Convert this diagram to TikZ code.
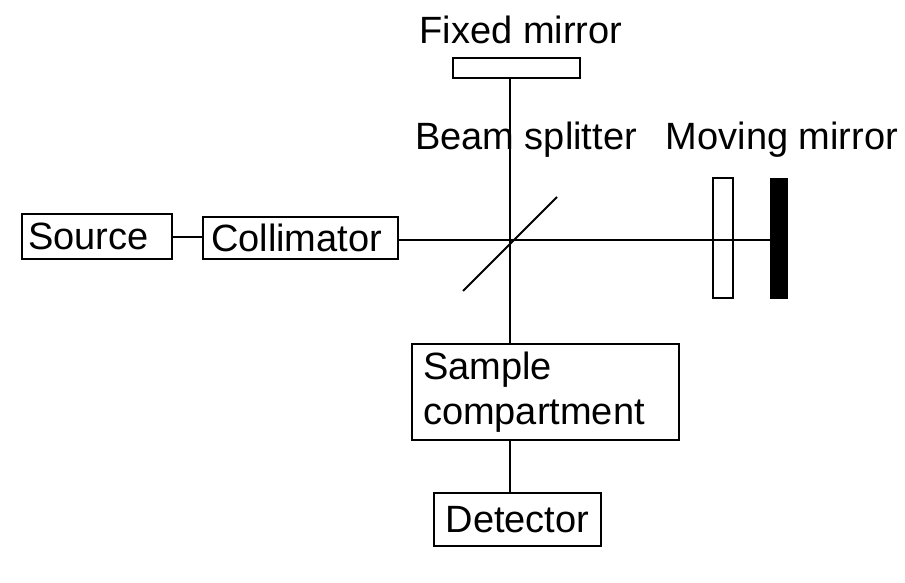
\documentclass[tikz,border=0pt]{standalone}
\usepackage{fontspec}
\setmainfont{Liberation Sans}
\usetikzlibrary{calc}
\begin{document}
\begin{tikzpicture}[x=1pt,y=-1pt,
  every node/.style={font=\fontsize{38}{45}\selectfont},
  box/.style={draw, line width=2pt, rectangle, inner ysep=0pt},
  ln/.style={line width=2pt},
  lbl/.style={inner sep=0pt}]
\useasboundingbox (0,0) rectangle (905,583);
\coordinate (bs) at (510,240);
% boxes
\node[box, minimum width=150, minimum height=45, text width=138, align=left, inner xsep=6] (source) at (97,236.5) {Source};
\node[box, minimum width=195, minimum height=42, text width=179, align=left, inner xsep=8] (colli) at (300.5,238) {Collimator};
\node[box, minimum width=267, minimum height=96, text width=245, align=left, inner xsep=11] (sample) at (545.5,392) {Sample\\compartment};
\node[box, minimum width=167, minimum height=53, inner xsep=0] (det) at (517.5,519.5) {Detector};
% mirrors
\node[box, minimum width=127, minimum height=20, inner sep=0] (fixed) at (516.5,68) {};
\node[box, minimum width=20, minimum height=120, inner sep=0] (comp) at (723,238) {};
\node[draw, fill=black, line width=1pt, minimum width=17, minimum height=120, inner sep=0] (moving) at (778.5,238) {};
% labels
\node[lbl] (lfixed) at (521,30) {Fixed mirror};
\node[lbl] (lbs) at (526,140) {Beam splitter};
\node[lbl] (lmov) at (782,140) {Moving mirror};
% connectors
\draw[ln] (source.east) -- (colli.west |- source.east);
\draw[ln] (colli.east |- bs) -- (moving.west |- bs);
\draw[ln] (fixed.south -| bs) -- (sample.north -| bs);
\draw[ln] (sample.south -| bs) -- (det.north -| bs);
\draw[line width=1.8pt] ($(bs)+(-47,51)$) -- ($(bs)+(47,-43)$);
\end{tikzpicture}
\end{document}
